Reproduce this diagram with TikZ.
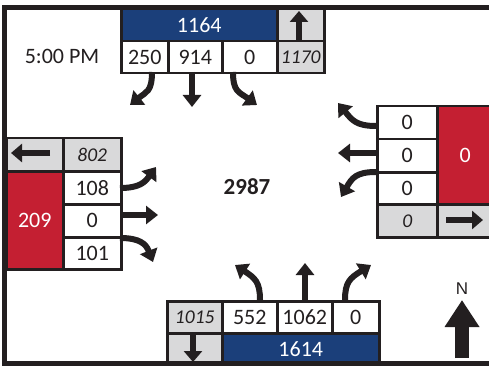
\documentclass[tikz,border=0pt]{standalone}
\usepackage{fontspec}
\setmainfont{Carlito}
\newfontfamily\arialf{Liberation Sans}
\usetikzlibrary{arrows.meta}
\definecolor{dk}{HTML}{231F20}
\definecolor{bl}{HTML}{1B3F7A}
\definecolor{rd}{HTML}{C41F32}
\definecolor{gr}{HTML}{D9D9DA}
\tikzset{
  cell/.style={draw=dk, line width=2.5pt, anchor=north west, inner sep=0pt, text=dk, font=\fontsize{22}{22}\selectfont},
  wc/.style={cell, fill=white},
  gc/.style={cell, fill=gr, font=\fontsize{19.5}{20}\selectfont\itshape},
  bc/.style={cell, fill=bl, text=white},
  rc/.style={cell, fill=rd, text=white},
  mv/.style={draw=dk, line width=6pt, -{Triangle[width=18pt,length=12pt]}},
  sm/.style={draw=dk, line width=5.5pt, -{Triangle[width=18pt,length=11pt]}},
  frame/.style={draw=dk, line width=4.5pt}
}
\begin{document}
\begin{tikzpicture}[x=1pt,y=-1pt]
\useasboundingbox (0,0) rectangle (489,366);
\fill[white] (0,0) rectangle (489,366);
% top approach
\node[bc, minimum width=156pt, minimum height=32pt] (tblue) at (120,8) {1164};
\node[gc, minimum width=47pt, minimum height=32pt] (tgray) at (276,8) {};
\node[wc, minimum width=47pt, minimum height=32pt] (tl) at (120,40) {250};
\node[wc, minimum width=54pt, minimum height=32pt] (tt) at (167,40) {914};
\node[wc, minimum width=55pt, minimum height=32pt] (tr) at (221,40) {0};
\node[gc, minimum width=47pt, minimum height=32pt] (tgi) at (276,40) {1170};
% west approach
\node[gc, minimum width=57pt, minimum height=33pt] (wgray) at (5,137) {};
\node[gc, minimum width=58pt, minimum height=33pt] (wgi) at (62,137) {802};
\node[rc, minimum width=57pt, minimum height=98pt] (wred) at (5,170) {209};
\node[wc, minimum width=58pt, minimum height=33pt] (wl) at (62,170) {108};
\node[wc, minimum width=58pt, minimum height=33pt] (wt) at (62,203) {0};
\node[wc, minimum width=58pt, minimum height=32pt] (wr) at (62,236) {101};
% east approach
\node[wc, minimum width=60pt, minimum height=33pt] (el) at (376,105) {0};
\node[wc, minimum width=60pt, minimum height=33pt] (et) at (376,138) {0};
\node[wc, minimum width=60pt, minimum height=32pt] (er) at (376,171) {0};
\node[rc, minimum width=56pt, minimum height=98pt] (ered) at (436,105) {0};
\node[gc, minimum width=60pt, minimum height=33pt] (egi) at (376,203) {0};
\node[gc, minimum width=56pt, minimum height=33pt] (egray) at (436,203) {};
% south approach
\node[gc, minimum width=55pt, minimum height=32pt] (sgi) at (166,300) {1015};
\node[wc, minimum width=55pt, minimum height=32pt] (sl) at (221,300) {552};
\node[wc, minimum width=55pt, minimum height=32pt] (st) at (276,300) {1062};
\node[wc, minimum width=47pt, minimum height=32pt] (sr) at (331,300) {0};
\node[gc, minimum width=55pt, minimum height=32pt] (sgray) at (166,332) {};
\node[bc, minimum width=157pt, minimum height=32pt] (sblue) at (221,332) {1614};
% frame
\draw[frame] (489,7.5) -- (4.5,7.5) -- (4.5,363.5) -- (489,363.5);
% exit arrows in gray cells
\draw[sm] (299,40) -- (299,11);
\draw[sm] (50,153) -- (11,153);
\draw[sm] (446,220) -- (483,220);
\draw[sm] (193,332) -- (193,362);
% movements from north
\draw[mv] (152,72) .. controls (152,92) and (146,92) .. (130,105);
\draw[mv] (192,72) -- (192,107);
\draw[mv] (233,72) .. controls (233,92) and (239,92) .. (257,105);
% movements from east
\draw[mv] (376,126) .. controls (356,126) and (352,120) .. (338,103);
\draw[mv] (376,153) -- (338,153);
\draw[mv] (376,172) .. controls (356,172) and (352,178) .. (341,197);
% movements from west
\draw[mv] (120,188) .. controls (140,188) and (145,182) .. (156,167);
\draw[mv] (120,215) -- (158,215);
\draw[mv] (120,238) .. controls (140,238) and (146,244) .. (153,262);
% movements from south
\draw[mv] (260,300) .. controls (260,282) and (255,278) .. (235,265);
\draw[mv] (305,300) -- (305,263);
\draw[mv] (345,300) .. controls (345,282) and (350,278) .. (371,265);
% labels
\node[text=dk, font=\fontsize{22}{22}\selectfont] (time) at (62,56) {5:00 PM};
\node[text=dk, font=\fontsize{23}{23}\selectfont\bfseries] (total) at (247,187) {2987};
\node[text=dk, font=\arialf\fontsize{17}{17}\selectfont] (north) at (462,289) {N};
\draw[draw=dk, line width=14pt, -{Triangle[width=33pt,length=27pt]}] (462,358) -- (462,300);
\end{tikzpicture}
\end{document}
